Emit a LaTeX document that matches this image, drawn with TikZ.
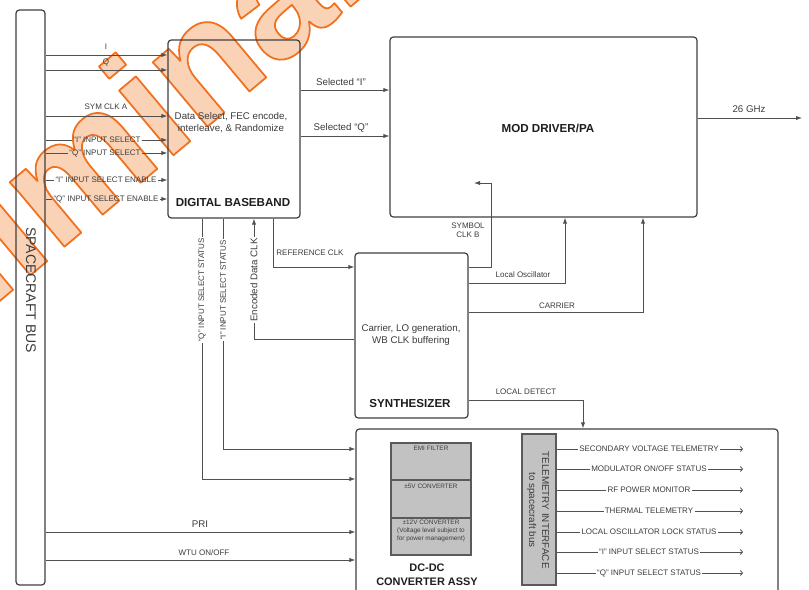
\documentclass[tikz,border=0pt]{standalone}
\usepackage{fontspec}
\setmainfont{Liberation Sans}
\usetikzlibrary{arrows.meta,fit,calc}
\definecolor{ln}{HTML}{505050}
\definecolor{bx}{HTML}{404040}
\definecolor{tx}{HTML}{3C3C3C}
\definecolor{tbk}{HTML}{1E1E1E}
\definecolor{gb}{HTML}{C2C2C2}
\definecolor{gbd}{HTML}{5A5A5A}
\definecolor{wmf}{RGB}{250,210,182}
\tikzset{
 box/.style={draw=bx, line width=0.9pt, rounded corners=2.5pt, inner sep=0pt},
 gbox/.style={draw=gbd, fill=gb, line width=0.8pt, inner sep=0pt},
 wire/.style={draw=ln, line width=0.6pt},
 arr/.style={wire, -{Latex[length=4.5pt,width=3.2pt]}},
 oarr/.style={wire, -{To[length=2.2pt,width=4pt]}},
 t6/.style={text=tx, font=\fontsize{6}{7}\selectfont, inner sep=0.8pt},
 t7/.style={text=tx, font=\fontsize{7.3}{8.5}\selectfont, inner sep=1pt},
 tbd/.style={text=tbk, font=\bfseries\fontsize{8.7}{10.5}\selectfont, inner sep=1pt},
 t5/.style={text=tx, font=\fontsize{4.8}{6}\selectfont, inner sep=0.5pt},
 wm/.style={font=\bfseries\fontsize{120}{120}\selectfont, anchor=base west, rotate=40, inner sep=0pt, text=wmf},
}
\begin{document}
\begin{tikzpicture}[x=0.75pt,y=-0.75pt]
\useasboundingbox (0,0) rectangle (809,589);
\clip (0,0) rectangle (809,589);
\fill[white] (0,0) rectangle (809,589);

% watermark: light fill with orange outline (stroke colour set for the text)
\node[wm] (wmark) at (-210,477) {\special{pdf:literal direct 0.941 0.439 0.118 RG 2 Tr 1.3 w 1 j}Preliminary};

% boxes
\node[box, fit={(16,10)(45,585)}] (bus) {};
\node[text=tx, font=\fontsize{10.5}{12}\selectfont, rotate=-90] (bustxt) at (31,290) {SPACECRAFT BUS};

\node[box, fit={(168,40)(300,218)}] (db) {};
\node[t7, align=center] (dbtxt) at (231,122.5) {Data Select, FEC encode,\\interleave, \& Randomize};
\node[tbd] (dbname) at (233,203) {DIGITAL BASEBAND};

\node[box, fit={(390,37)(697,217)}] (mod) {};
\node[tbd] (modname) at (548,128) {MOD DRIVER/PA};

\node[box, fit={(355,253)(468,418)}] (syn) {};
\node[t7, align=center] (syntxt) at (411,335) {Carrier, LO generation,\\WB CLK buffering};
\node[tbd] (synname) at (410,403) {SYNTHESIZER};

\node[box, fit={(356,429)(778,620)}] (dc) {};
\node[gbox, fit={(391,443)(471,480)}] (emi) {};
\node[gbox, fit={(391,480)(471,518)}] (p5) {};
\node[gbox, fit={(391,518)(471,555)}] (p12) {};
\node[t5] (emit) at (431,448) {EMI FILTER};
\node[t5] (p5t) at (431,486) {±5V CONVERTER};
\node[t5, align=center] (p12t) at (431,531) {±12V CONVERTER\\(Voltage level subject to\\for power management)};
\node[tbd, align=center, font=\bfseries\fontsize{8.2}{10.5}\selectfont] (dcname) at (427,575) {DC-DC\\CONVERTER ASSY};

\node[gbox, fit={(522,434)(556,585)}] (tel) {};
\node[text=tx, font=\fontsize{7.4}{9.8}\selectfont, rotate=-90, align=center] (teltxt) at (538,510) {TELEMETRY INTERFACE\\to spacecraft bus};

% inputs from bus to digital baseband
\node[t6] (li) at (106,47) {I};
\draw[arr] (bus.east |- 0,55) -- (db.west |- 0,55);
\node[t6] (lq) at (106,62) {Q};
\draw[arr] (bus.east |- 0,70) -- (db.west |- 0,70);
\node[t6] (lsym) at (106,107) {SYM CLK A};
\draw[arr] (bus.east |- 0,116) -- (db.west |- 0,116);
\node[t6] (lis) at (107,140) {“I” INPUT SELECT};
\draw[wire] (bus.east |- lis) -- (lis.west);
\draw[arr] (lis.east) -- (db.west |- lis);
\node[t6] (lqs) at (105,153) {“Q” INPUT SELECT};
\draw[wire] (bus.east |- lqs) -- (lqs.west);
\draw[arr] (lqs.east) -- (db.west |- lqs);
\node[t6] (lie) at (106,180) {“I” INPUT SELECT ENABLE};
\draw[wire] (bus.east |- lie) -- (lie.west);
\draw[arr] (lie.east) -- (db.west |- lie);
\node[t6] (lqe) at (106,199) {“Q” INPUT SELECT ENABLE};
\draw[wire] (bus.east |- lqe) -- (lqe.west);
\draw[arr] (lqe.east) -- (db.west |- lqe);

% digital baseband to mod driver
\node[t7] (lsi) at (341,82) {Selected “I”};
\draw[arr] (db.east |- 0,90) -- (mod.west |- 0,90);
\node[t7] (lsq) at (341,128) {Selected “Q”};
\draw[arr] (db.east |- 0,136) -- (mod.west |- 0,136);

% output
\coordinate (out) at (802,118);
\node[t7] (lghz) at (749,109) {26 GHz};
\draw[arr] (mod.east |- out) -- (out);

% synthesizer to mod driver
\coordinate (symb) at (474,183);
\node[t6, align=center] (lsymb) at (468,230) {SYMBOL\\CLK B};
\draw[arr] (syn.east |- 0,267) -- (491,267) -- (491,183) -- (symb);
\node[t6] (llo) at (523,275) {Local Oscillator};
\draw[arr] (syn.east |- 0,283) -| (565,0 |- mod.south);
\node[t6] (lcar) at (557,306) {CARRIER};
\draw[arr] (syn.east |- 0,312) -| (643,0 |- mod.south);

% reference clk and encoded data clk
\node[t6] (lref) at (310,253) {REFERENCE CLK};
\draw[arr] (db.south -| 273,0) -- (273,267) -- (syn.west |- 0,267);
\node[t7, rotate=90] (lenc) at (254,280) {Encoded Data CLK};
\draw[wire] (syn.west |- 0,339) -| (lenc.west);
\draw[arr] (lenc.east) -- (db.south -| lenc.east);

% status lines to dc-dc
\node[t6, rotate=90] (lqst) at (202,290) {“Q” INPUT SELECT STATUS};
\draw[wire] (db.south -| lqst.east) -- (lqst.east);
\draw[arr] (lqst.west) |- (dc.west |- 0,479);
\node[t6, rotate=90] (list) at (223,290) {“I” INPUT SELECT STATUS};
\draw[wire] (db.south -| list.east) -- (list.east);
\draw[arr] (list.west) |- (dc.west |- 0,449);

% power
\node[t7] (lpri) at (200,524) {PRI};
\draw[arr] (bus.east |- 0,532) -- (dc.west |- 0,532);
\node[t6] (lwtu) at (204,553) {WTU ON/OFF};
\draw[arr] (bus.east |- 0,560) -- (dc.west |- 0,560);

% local detect
\node[t6] (lld) at (526,392) {LOCAL DETECT};
\draw[arr] (syn.east |- 0,400) -| (583,0 |- dc.north);

% telemetry outputs
\foreach \yy/\txt [count=\k] in {449/{SECONDARY VOLTAGE TELEMETRY}, 469/{MODULATOR ON/OFF STATUS}, 490/{RF POWER MONITOR}, 511/{THERMAL TELEMETRY}, 532/{LOCAL OSCILLATOR LOCK STATUS}, 552/{“I” INPUT SELECT STATUS}, 573/{“Q” INPUT SELECT STATUS}}{
  \node[t6] (tm\k) at (649,\yy) {\txt};
  \coordinate (te\k) at (743,\yy);
  \draw[wire] (tel.east |- tm\k) -- (tm\k.west);
  \draw[oarr] (tm\k.east) -- (te\k);
}
\end{tikzpicture}
\end{document}
